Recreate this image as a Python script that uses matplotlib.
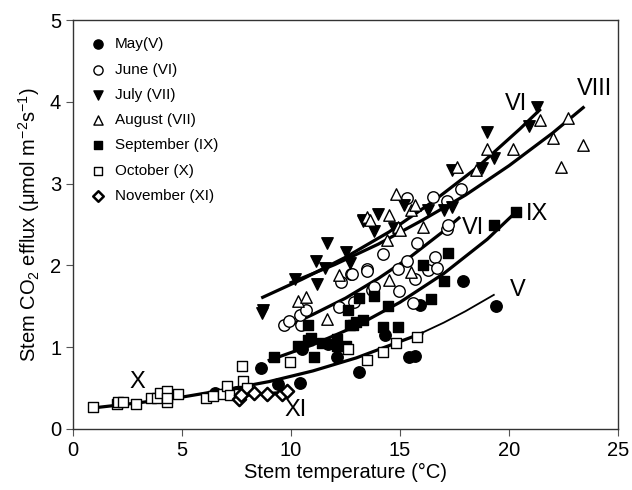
import numpy as np
import matplotlib
matplotlib.use('Agg')
import matplotlib.pyplot as plt

plt.rcParams['font.family'] = ['Liberation Sans', 'DejaVu Sans']
plt.rcParams['mathtext.fontset'] = 'custom'
plt.rcParams['mathtext.rm'] = 'Liberation Sans'
plt.rcParams['mathtext.it'] = 'Liberation Sans:italic'

# measured points, (temperature, efflux) per month
may_x = [6.5, 7.5, 8.6, 9.4, 10.4, 10.5, 11.7, 12.1, 13.1, 14.3, 15.4, 15.7, 15.9, 17.9, 19.4]
may_y = [0.44, 0.45, 0.75, 0.55, 0.56, 0.98, 1.04, 0.88, 0.70, 1.15, 0.88, 0.89, 1.52, 1.81, 1.50]

jun_x = [9.7, 9.9, 10.45, 10.4, 10.7, 12.2, 12.3, 12.75, 12.8, 12.9, 13.5, 13.5, 13.7, 13.8, 14.2,
         14.9, 14.95, 15.3, 15.6, 15.7, 15.8, 16.3, 16.6, 16.7, 17.15, 17.2, 15.3, 16.5, 17.15, 17.8]
jun_y = [1.27, 1.32, 1.27, 1.39, 1.45, 1.49, 1.80, 1.90, 1.90, 1.55, 1.96, 1.93, 1.70, 1.74, 2.14,
         1.96, 1.69, 2.05, 1.54, 1.83, 2.27, 1.94, 2.10, 1.97, 2.44, 2.50, 2.82, 2.84, 2.79, 2.93]

jul_x = [8.65, 8.7, 10.2, 11.2, 11.15, 11.65, 11.55, 12.5, 12.7, 13.3, 13.3, 14.0, 13.8, 14.7,
         15.2, 16.3, 17.0, 17.4, 17.4, 18.75, 19.0, 19.3, 20.9, 21.3]
jul_y = [1.42, 1.45, 1.83, 1.77, 2.05, 2.27, 1.97, 2.16, 2.03, 2.55, 2.54, 2.63, 2.42, 2.46,
         2.74, 2.68, 2.68, 2.71, 3.17, 3.19, 3.63, 3.31, 3.70, 3.94]

aug_x = [10.3, 10.7, 11.65, 12.2, 13.5, 13.6, 14.4, 14.5, 14.5, 14.8, 14.9, 15.0, 15.5, 15.5,
         15.7, 16.05, 17.6, 18.5, 19.0, 20.2, 21.4, 22.0, 22.4, 22.7, 23.4]
aug_y = [1.56, 1.61, 1.34, 1.88, 2.59, 2.55, 2.31, 2.62, 1.82, 2.87, 2.47, 2.43, 2.68, 1.92,
         2.74, 2.47, 3.20, 3.17, 3.42, 3.42, 3.78, 3.56, 3.20, 3.80, 3.47]

sep_x = [9.2, 10.3, 10.8, 10.9, 11.05, 11.4, 12.1, 12.1, 12.5, 12.6, 13.1, 10.8, 12.7, 12.85, 13.0,
         13.3, 13.8, 14.2, 14.45, 14.9, 16.05, 16.4, 17.0, 17.2, 19.3, 20.3]
sep_y = [0.88, 1.02, 1.09, 1.11, 0.88, 1.05, 1.10, 1.01, 1.01, 1.45, 1.60, 1.27, 1.27, 1.27, 1.31,
         1.33, 1.63, 1.25, 1.50, 1.25, 2.00, 1.59, 1.81, 2.15, 2.49, 2.65]

oct_x = [0.92, 2.0, 2.05, 2.3, 2.9, 3.6, 3.85, 4.0, 4.3, 4.3, 4.3, 4.8, 6.1, 6.4, 6.9, 7.05, 7.2,
         7.6, 7.75, 7.8, 8.0, 9.95, 12.6, 13.5, 14.2, 14.8, 15.8]
oct_y = [0.27, 0.31, 0.33, 0.33, 0.30, 0.38, 0.38, 0.44, 0.46, 0.33, 0.38, 0.43, 0.38, 0.40, 0.43, 0.52, 0.42,
         0.43, 0.77, 0.59, 0.50, 0.82, 0.98, 0.84, 0.94, 1.05, 1.12]

nov_x = [7.6, 7.7, 8.3, 8.9, 9.6, 9.8]
nov_y = [0.37, 0.42, 0.44, 0.43, 0.43, 0.46]

# fitted curves
fit_x_x = [1, 3, 5, 7, 9, 11, 13, 16]
fit_x_y = [0.26, 0.32, 0.39, 0.48, 0.58, 0.71, 0.87, 1.17]
fit_v_x = [15.8, 17, 18, 19.3]
fit_v_y = [1.15, 1.30, 1.44, 1.64]
fit_ix_x = [9, 11, 13, 15, 17, 19, 20.3]
fit_ix_y = [0.84, 1.03, 1.26, 1.55, 1.90, 2.32, 2.65]
fit_vi_x = [9.8, 11, 12.5, 14, 15.5, 17, 17.7]
fit_vi_y = [1.25, 1.40, 1.60, 1.84, 2.11, 2.42, 2.58]
fit_vii_x = [8.7, 10.5, 12.5, 14.5, 16.5, 18.5, 20.5, 21.4]
fit_vii_y = [1.61, 1.83, 2.10, 2.41, 2.78, 3.19, 3.67, 3.90]
fit_viii_x = [10, 12, 14, 16, 18, 20, 22, 23.4]
fit_viii_y = [1.79, 2.01, 2.26, 2.55, 2.86, 3.22, 3.62, 3.93]
fit_xi_x = [7.7, 9.8]
fit_xi_y = [0.41, 0.45]

labels = ['May(V)', 'June (VI)', 'July (VII)', 'August (VII)',
          'September (IX)', 'October (X)', 'November (XI)']

fig = plt.figure(figsize=(6.32, 4.9), dpi=100)
ax = fig.add_axes([0.1155, 0.1245, 0.8625, 0.8345])

lw = 2.3
ax.plot(fit_x_x, fit_x_y, color='k', lw=lw, zorder=3)
ax.plot(fit_v_x, fit_v_y, color='k', lw=1.3, zorder=3)
ax.plot(fit_ix_x, fit_ix_y, color='k', lw=lw, zorder=3)
ax.plot(fit_vi_x, fit_vi_y, color='k', lw=lw, zorder=3)
ax.plot(fit_vii_x, fit_vii_y, color='k', lw=lw, zorder=3)
ax.plot(fit_viii_x, fit_viii_y, color='k', lw=lw, zorder=3)
ax.plot(fit_xi_x, fit_xi_y, color='k', lw=lw, zorder=3)

ms = 68
kw = dict(edgecolors='k', linewidths=1.0, zorder=4)
ax.scatter(may_x, may_y, s=ms, marker='o', c='k', label=labels[0], **kw)
ax.scatter(jun_x, jun_y, s=ms, marker='o', c='white', label=labels[1], **kw)
ax.scatter(jul_x, jul_y, s=ms, marker='v', c='k', label=labels[2], **kw)
ax.scatter(aug_x, aug_y, s=ms, marker='^', c='white', label=labels[3], **kw)
ax.scatter(sep_x, sep_y, s=55, marker='s', c='k', label=labels[4], **kw)
ax.scatter(oct_x, oct_y, s=55, marker='s', c='white', label=labels[5], **kw)
ax.scatter(nov_x, nov_y, s=45, marker='D', c='white', label=labels[6],
           edgecolors='k', linewidths=1.8, zorder=4)

fs = 17
ax.text(2.94, 0.57, 'X', fontsize=fs, ha='center', va='center')
ax.text(10.2, 0.23, 'XI', fontsize=fs, ha='center', va='center')
ax.text(20.4, 1.70, 'V', fontsize=fs, ha='center', va='center')
ax.text(18.35, 2.46, 'VI', fontsize=fs, ha='center', va='center')
ax.text(21.3, 2.63, 'IX', fontsize=fs, ha='center', va='center')
ax.text(20.3, 3.97, 'VI', fontsize=fs, ha='center', va='center')
ax.text(23.9, 4.16, 'VIII', fontsize=fs, ha='center', va='center')

ax.set_xlim(0, 25)
ax.set_ylim(0, 5)
ax.set_xticks(np.arange(0, 26, 5))
ax.set_yticks(np.arange(0, 6, 1))
ax.tick_params(direction='out', length=5, labelsize=14.5, color='#555555')
for s in ax.spines.values():
    s.set_linewidth(1.0)
    s.set_color('#333333')

ax.set_xlabel('Stem temperature (°C)', fontsize=14.5, labelpad=2)
ax.set_ylabel('Stem CO$_2$ efflux (μmol m$^{-2}$s$^{-1}$)', fontsize=14.5, labelpad=6)

ax.legend(loc='upper left', bbox_to_anchor=(-0.005, 0.988), frameon=False, fontsize=11,
          labelspacing=0.74, handletextpad=0.1, borderaxespad=0.4, markerscale=0.8)

fig.savefig('out.png', dpi=100)
